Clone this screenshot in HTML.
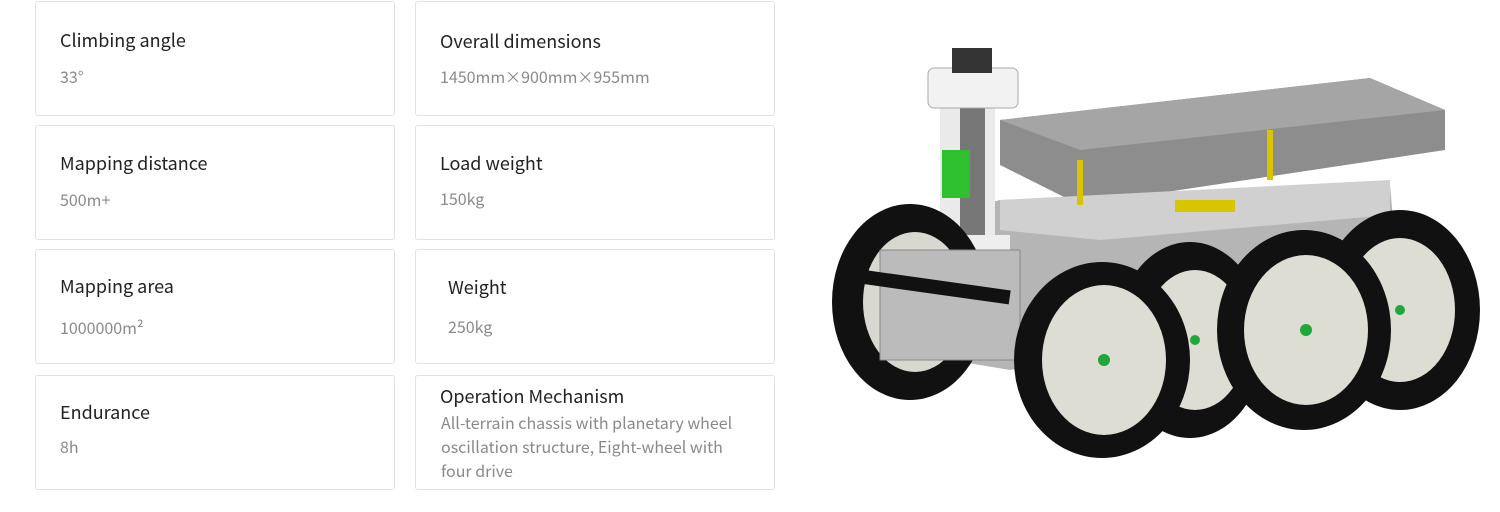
<!DOCTYPE html>
<html><head><meta charset="utf-8"><style>
body{margin:0;width:1500px;height:512px;background:#fff;font-family:"Noto Sans CJK SC","Liberation Sans",sans-serif;position:relative;overflow:hidden}
.c{position:absolute;width:360px;height:115px;border:1px solid #e2e2e2;border-radius:3px;box-sizing:border-box}
.t{position:absolute;left:24px;font-size:18px;color:#222;line-height:26px}
.v{position:absolute;left:24px;font-size:16px;color:#8a8a8a;line-height:24px}
</style></head><body>
<div class="c" style="left:35px;top:1px"><div class="t" style="top:25px">Climbing angle</div><div class="v" style="top:62px">33°</div></div>
<div class="c" style="left:415px;top:1px"><div class="t" style="top:26px">Overall dimensions</div><div class="v" style="top:62px">1450mm×900mm×955mm</div></div>
<div class="c" style="left:35px;top:125px"><div class="t" style="top:24px">Mapping distance</div><div class="v" style="top:61px">500m+</div></div>
<div class="c" style="left:415px;top:125px"><div class="t" style="top:24px">Load weight</div><div class="v" style="top:60px">150kg</div></div>
<div class="c" style="left:35px;top:249px"><div class="t" style="top:23px">Mapping area</div><div class="v" style="top:65px">1000000m²</div></div>
<div class="c" style="left:415px;top:249px"><div class="t" style="top:24px;left:32px">Weight</div><div class="v" style="top:64px;left:32px">250kg</div></div>
<div class="c" style="left:35px;top:375px;height:115px"><div class="t" style="top:23px">Endurance</div><div class="v" style="top:58px">8h</div></div>
<div class="c" style="left:415px;top:375px;height:115px"><div class="t" style="top:7px">Operation Mechanism</div><div class="v" style="top:34px;width:310px;left:25px">All-terrain chassis with planetary wheel oscillation structure, Eight-wheel with four drive</div></div>
<svg style="position:absolute;left:0;top:0" width="1500" height="512">
<polygon points="1000,120 1370,78 1445,110 1445,150 1080,205 1000,165" fill="#8d8d8d"/>
<polygon points="1000,120 1370,78 1445,110 1080,150" fill="#a5a5a5"/>
<polygon points="880,230 1000,200 1390,185 1400,300 1010,370 890,350" fill="#b5b5b5"/>
<polygon points="1000,200 1390,180 1390,215 1100,240 1000,230" fill="#d0d0d0"/>
<line x1="1080" y1="160" x2="1080" y2="205" stroke="#d9c400" stroke-width="6"/>
<line x1="1270" y1="130" x2="1270" y2="180" stroke="#d9c400" stroke-width="6"/>
<rect x="1175" y="200" width="60" height="12" fill="#d9c400"/>
<rect x="940" y="100" width="55" height="160" fill="#eaeaea"/>
<rect x="960" y="100" width="25" height="150" fill="#777"/>
<rect x="928" y="68" width="90" height="40" rx="6" fill="#f2f2f2" stroke="#aaa"/>
<rect x="952" y="48" width="40" height="25" fill="#333"/>
<rect x="942" y="150" width="28" height="48" fill="#2ec02e"/>
<rect x="935" y="235" width="75" height="25" fill="#eee"/>
<ellipse cx="910" cy="302" rx="78" ry="98" fill="#111"/>
<ellipse cx="915" cy="302" rx="52" ry="70" fill="#d8d8d0"/>
<rect x="880" y="250" width="140" height="110" fill="#bbb" stroke="#888"/>
<rect x="860" y="280" width="150" height="14" fill="#111" transform="rotate(8 935 290)"/>
<ellipse cx="1400" cy="310" rx="80" ry="100" fill="#111"/>
<ellipse cx="1400" cy="310" rx="55" ry="72" fill="#ddddd3"/>
<ellipse cx="1190" cy="340" rx="75" ry="98" fill="#111"/>
<ellipse cx="1195" cy="340" rx="52" ry="70" fill="#ddddd3"/>
<ellipse cx="1304" cy="330" rx="87" ry="100" fill="#111"/>
<ellipse cx="1306" cy="330" rx="62" ry="75" fill="#ddddd3"/>
<ellipse cx="1102" cy="360" rx="88" ry="98" fill="#111"/>
<ellipse cx="1104" cy="360" rx="62" ry="75" fill="#ddddd3"/>
<g fill="#1fa83a"><circle cx="1104" cy="360" r="6"/><circle cx="1306" cy="330" r="6"/><circle cx="1400" cy="310" r="5"/><circle cx="1195" cy="340" r="5"/></g>
</svg>
</body></html>
